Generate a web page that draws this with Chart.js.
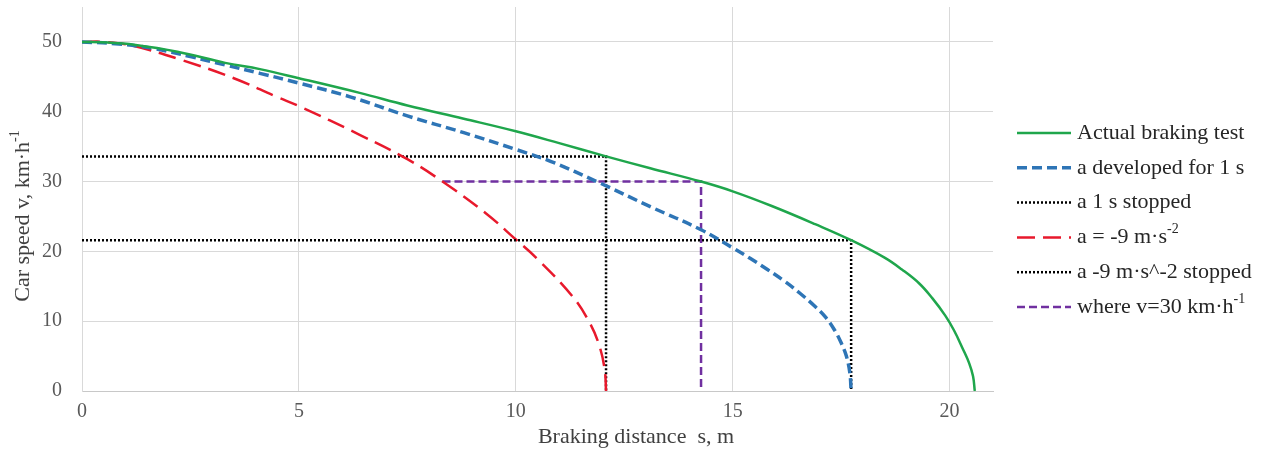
<!DOCTYPE html>
<html><head><meta charset="utf-8">
<script src="https://cdn.jsdelivr.net/npm/chart.js@4.4.1/dist/chart.umd.min.js"></script>
<style>html,body{margin:0;padding:0;background:#fff;}</style>
</head><body>
<canvas id="c" width="1267" height="450"></canvas>
<script>
// ---- data ----
const seriesNames = ['Actual braking test', 'a developed for 1 s', 'a 1 s stopped', 'a = -9 m·s^{-2}', 'a -9 m·s^-2 stopped', 'where v=30 km·h^{-1}'];
const xTitle = 'Braking distance  s, m';
const yTitle = 'Car speed v, km·h^{-1}';
const xTicks = [0, 5, 10, 15, 20];
const yTicks = [0, 10, 20, 30, 40, 50];

const actualS = [0, 0.6, 1.2, 2.2, 3.3, 4.1, 5, 6.4, 7.5, 8.8, 10, 11, 12.08, 13.1, 14.27, 15, 15.9, 16.9, 17.73, 18.5, 18.9, 19.3, 19.6, 19.9, 20.1, 20.3, 20.45, 20.54, 20.58];
const actualV = [50, 49.9, 49.6, 48.6, 47.0, 46.1, 44.8, 42.7, 40.9, 39.0, 37.2, 35.5, 33.6, 31.9, 30.0, 28.6, 26.5, 23.9, 21.6, 19.1, 17.4, 15.4, 13.3, 10.8, 8.7, 6.1, 4.0, 2.1, 0];

const devS = [0, 0.85, 1.7, 2.5, 3.3, 4.1, 5, 6.2, 7.5, 8.8, 10, 10.8, 11.9, 13.1, 14.27, 15, 15.4, 15.8, 16.2, 16.55, 16.9, 17.15, 17.35, 17.5, 17.62, 17.7, 17.73];
const devV = [50, 49.7, 49.0, 47.9, 46.7, 45.5, 44.1, 42.1, 39.4, 37.0, 34.6, 32.9, 29.9, 26.4, 23.1, 20.5, 19.0, 17.4, 15.7, 14.0, 12.1, 10.5, 8.7, 6.9, 5.0, 2.6, 0];

const stop1S = [0, 17.73, 17.73];
const stop1V = [21.6, 21.6, 0];

const redS = [0, 0.5, 1.2, 2.3, 3.5, 4.5, 5, 6.4, 7.5, 8.31, 9.3, 10, 10.5, 11.3, 11.7, 11.93, 12.05, 12.08];
const redV = [50, 50, 49.4, 47.4, 44.8, 42.1, 40.8, 36.7, 33.2, 30, 25.5, 21.7, 18.9, 13.6, 9.8, 6.4, 3.0, 0];

const stop9S = [0, 12.08, 12.08];
const stop9V = [33.6, 33.6, 0];

const v30S = [8.31, 14.27, 14.27];
const v30V = [30, 30, 0];

// ---- helpers ----
const pts = (xs, ys) => xs.map((x, i) => ({x: x, y: ys[i]}));
const FONT = '"Liberation Serif", "Times New Roman", serif';

function parseRich(t) {
  const segs = [];
  const re = /\^\{([^}]*)\}/g;
  let last = 0, m;
  while ((m = re.exec(t)) !== null) {
    if (m.index > last) segs.push({t: t.slice(last, m.index), sup: false});
    segs.push({t: m[1], sup: true});
    last = re.lastIndex;
  }
  if (last < t.length) segs.push({t: t.slice(last), sup: false});
  return segs;
}
function richWidth(ctx, segs, size) {
  let w = 0;
  segs.forEach(s => { ctx.font = (s.sup ? Math.round(size * 0.62) : size) + 'px ' + FONT; w += ctx.measureText(s.t).width; });
  return w;
}
function drawRich(ctx, text, x, y, size, align, color) {
  const segs = parseRich(text);
  let cx = x;
  if (align === 'center') cx = x - richWidth(ctx, segs, size) / 2;
  ctx.fillStyle = color;
  ctx.textBaseline = 'middle';
  ctx.textAlign = 'left';
  segs.forEach(s => {
    const fs = s.sup ? Math.round(size * 0.62) : size;
    ctx.font = fs + 'px ' + FONT;
    ctx.fillText(s.t, cx, s.sup ? y - size * 0.35 : y);
    cx += ctx.measureText(s.t).width;
  });
}

const decor = {
  id: 'decor',
  afterDraw(chart) {
    const ctx = chart.ctx;
    ctx.save();
    // x title
    drawRich(ctx, xTitle, 636, 437, 22, 'center', '#404040');
    // y title
    ctx.save();
    ctx.translate(23, 216);
    ctx.rotate(-Math.PI / 2);
    drawRich(ctx, yTitle, 0, 0, 22, 'center', '#404040');
    ctx.restore();
    // legend
    const top = 133, gap = 34.8, lx0 = 1017, lx1 = 1071, tx = 1077;
    chart.data.datasets.forEach((ds, i) => {
      const y = top + i * gap;
      ctx.beginPath();
      ctx.strokeStyle = ds.borderColor;
      ctx.lineWidth = ds.borderWidth;
      ctx.setLineDash(ds.borderDash || []);
      ctx.moveTo(lx0, y);
      ctx.lineTo(lx1, y);
      ctx.stroke();
      ctx.setLineDash([]);
      drawRich(ctx, seriesNames[i], tx, y, 22, 'left', '#262626');
    });
    ctx.restore();
  }
};

const curve = {pointRadius: 0, fill: false, tension: 0.4};
const step = {pointRadius: 0, fill: false, tension: 0};

new Chart(document.getElementById('c'), {
  type: 'line',
  data: {
    datasets: [
      Object.assign({label: seriesNames[0], data: pts(actualS, actualV), borderColor: '#1fa64c', borderWidth: 2.5}, curve),
      Object.assign({label: seriesNames[1], data: pts(devS, devV), borderColor: '#2e75b6', borderWidth: 3.5, borderDash: [10, 5]}, curve),
      Object.assign({label: seriesNames[2], data: pts(stop1S, stop1V), borderColor: '#000000', borderWidth: 2.5, borderDash: [2, 2]}, step),
      Object.assign({label: seriesNames[3], data: pts(redS, redV), borderColor: '#e8192c', borderWidth: 2.5, borderDash: [18, 8]}, curve),
      Object.assign({label: seriesNames[4], data: pts(stop9S, stop9V), borderColor: '#000000', borderWidth: 2.5, borderDash: [2, 2]}, step),
      Object.assign({label: seriesNames[5], data: pts(v30S, v30V), borderColor: '#7030a0', borderWidth: 2.5, borderDash: [8, 4]}, step)
    ]
  },
  options: {
    responsive: false,
    animation: false,
    layout: {padding: {left: 0, right: 274, top: 7, bottom: 0}},
    plugins: {legend: {display: false}, tooltip: {enabled: false}},
    scales: {
      x: {
        type: 'linear', min: 0, max: 21,
        afterBuildTicks: s => { s.ticks = xTicks.map(v => ({value: v})); },
        afterFit: s => { s.height = 59; s.paddingLeft = 0; s.paddingRight = 0; s.paddingTop = 0; s.paddingBottom = 0; },
        grid: {color: '#d9d9d9', drawTicks: false},
        border: {color: '#c8c8c8'},
        ticks: {padding: 9, color: '#595959', font: {family: FONT, size: 20}}
      },
      y: {
        type: 'linear', min: 0, max: 55,
        afterBuildTicks: s => { s.ticks = yTicks.map(v => ({value: v})); },
        afterFit: s => { s.width = 82; s.paddingTop = 0; s.paddingBottom = 0; s.paddingLeft = 0; s.paddingRight = 0; },
        grid: {color: '#d9d9d9', drawTicks: false},
        border: {color: '#d9d9d9'},
        ticks: {padding: 20, color: '#595959', font: {family: FONT, size: 20}}
      }
    }
  },
  plugins: [decor]
});
</script>
</body></html>
